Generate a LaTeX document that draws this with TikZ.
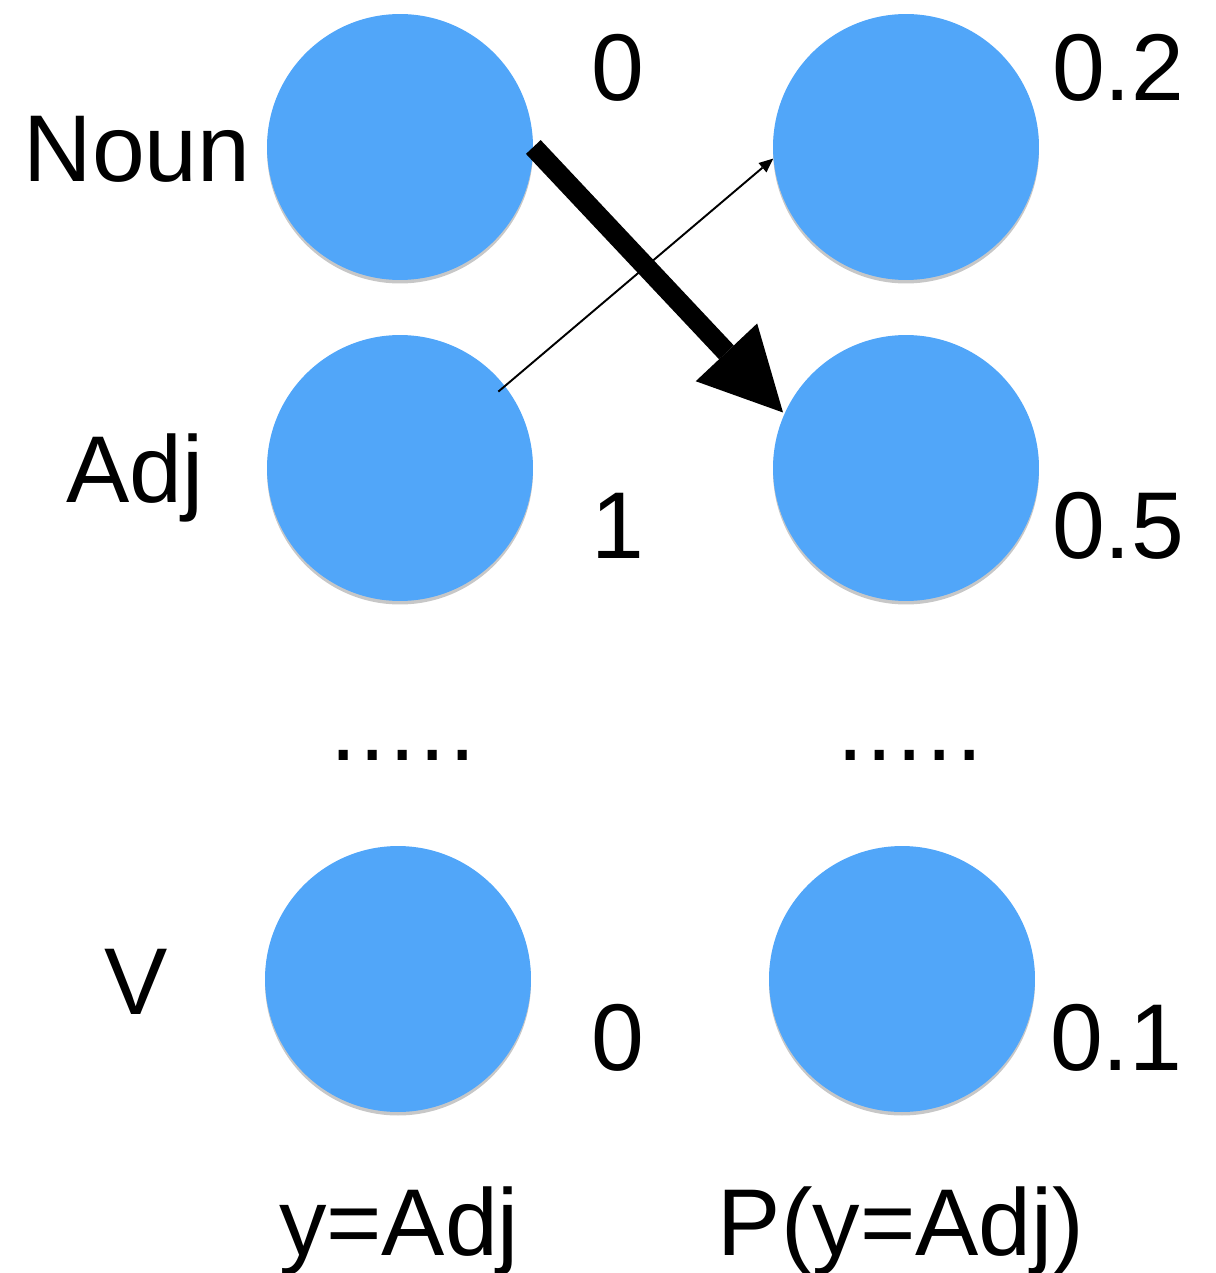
\documentclass[tikz,border=0pt]{standalone}
\usepackage{fontspec}
\setmainfont{Liberation Sans}
\usetikzlibrary{arrows.meta,shadows}
\definecolor{nodeblue}{RGB}{81,166,249}
\begin{document}
\begin{tikzpicture}[x=0.02cm,y=-0.02cm,
  state/.style={circle,fill=nodeblue,minimum size=5.32cm,inner sep=0pt,
    drop shadow={shadow xshift=0pt,shadow yshift=-2pt,opacity=0.22,fill=black}},
  lbl/.style={anchor=base,inner sep=0pt,font=\fontsize{54}{60}\selectfont},
  bigarrow/.style={line width=11.5pt,-{Triangle[length=47pt,width=48pt,line width=0pt]}},
  thinarrow/.style={line width=1.1pt,-{Triangle[length=8pt,width=7pt,line width=0pt]}}]
\useasboundingbox (0,0) rectangle (1215,1273);
% circles
\node[state] (a1) at (400,147) {};
\node[state] (a2) at (400,468) {};
\node[state] (a3) at (398,979) {};
\node[state] (b1) at (906,147) {};
\node[state] (b2) at (906,468) {};
\node[state] (b3) at (902,979) {};
% row labels
\node[lbl] (tNoun) at (137,182) {Noun};
\node[lbl] (tAdj) at (135,502) {Adj};
\node[lbl] (tV) at (136,1014) {V};
% values
\node[lbl] (v1) at (618,101) {0};
\node[lbl] (v2) at (618,558) {1};
\node[lbl] (v3) at (618,1070) {0};
\node[lbl] (p1) at (1118,101) {0.2};
\node[lbl] (p2) at (1118,558) {0.5};
\node[lbl] (p3) at (1116,1070) {0.1};
% ellipses
\node[lbl] (d1) at (403,760) {.\kern2pt.\kern2pt.\kern2pt.\kern2pt.};
\node[lbl] (d2) at (910,760) {.\kern2pt.\kern2pt.\kern2pt.\kern2pt.};
% column labels
\node[lbl] (c1) at (399,1255) {y=Adj};
\node[lbl] (c2) at (901,1255) {P(y=Adj)};
% arrows
\draw[thinarrow,shorten <=-5pt] (a2.38) -- (b1.185);
\draw[bigarrow,shorten >=1pt] (a1.east) -- (b2.156);
\end{tikzpicture}
\end{document}
